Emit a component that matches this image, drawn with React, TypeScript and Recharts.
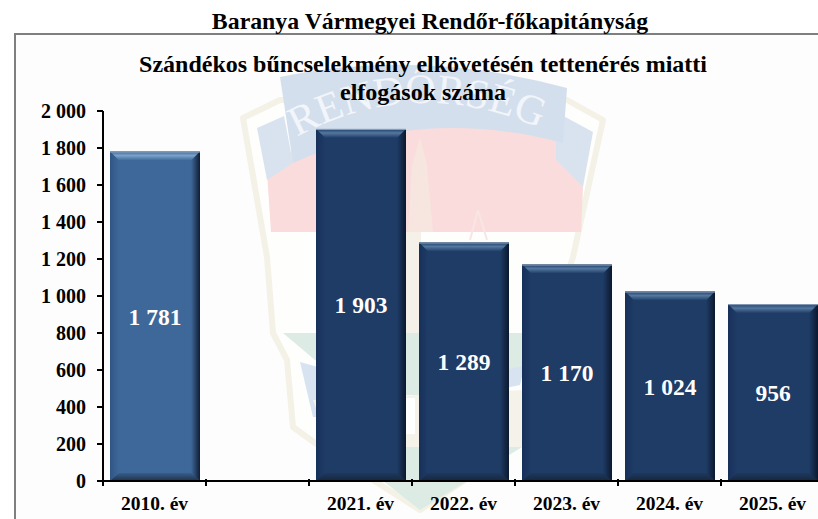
import { BarChart, Bar, XAxis, YAxis, LabelList } from "recharts";

const categories = ["2010. év", " ", "2021. év", "2022. év", "2023. év", "2024. év", "2025. év"];
const values = [1781, null, 1903, 1289, 1170, 1024, 956];
const barColors = ["#3e6899", "#3e6899", "#1e3c66", "#1e3c66", "#1e3c66", "#1e3c66", "#1e3c66"];
const yTicks = [0, 200, 400, 600, 800, 1000, 1200, 1400, 1600, 1800, 2000];

const data = categories.map((name, i) => ({ name, value: values[i] }));

const SERIF = '"Liberation Serif", "Times New Roman", serif';
const BAND = 103;
const BEVEL = 9;

const fmt = (v: number | null) => (v == null ? "" : String(v).replace(/\B(?=(\d{3})+$)/g, "\u00a0"));

function BevelBar(props: any) {
  const { x, y, width: w, height: h, payload } = props;
  if (!h || h <= 0) return null;
  // index skips the empty category, so look the colour up by name
  const c = barColors[categories.indexOf(payload.name)];
  const key = c === "#3e6899" ? "a" : "b";
  const r = x + w;
  const b = y + h;
  return (
    <g>
      <rect x={x} y={y} width={w} height={h} fill={c} />
      <polygon points={`${x},${y} ${r},${y} ${r - BEVEL},${y + BEVEL} ${x + BEVEL},${y + BEVEL}`} fill={`url(#top-${key})`} />
      <polygon points={`${x},${y} ${x + BEVEL},${y + BEVEL} ${x + BEVEL},${b - 8} ${x},${b}`} fill={`url(#left-${key})`} />
      <polygon points={`${r},${y} ${r - BEVEL},${y + BEVEL} ${r - BEVEL},${b - 8} ${r},${b}`} fill="url(#right)" />
      <polygon points={`${x},${b} ${x + BEVEL},${b - 8} ${r - BEVEL},${b - 8} ${r},${b}`} fill="url(#bottom)" />
      <line x1={x} y1={y + 0.5} x2={r} y2={y + 0.5} stroke="#8ea3bd" strokeWidth={1} />
    </g>
  );
}

function BandTick(props: any) {
  const { x, y, payload } = props;
  const left = x - BAND / 2;
  return (
    <g>
      <line x1={left} y1={y - 8} x2={left} y2={y - 1} stroke="#000" strokeWidth={2} />
      <text x={x} y={y + 23} textAnchor="middle" fontFamily={SERIF} fontWeight="bold" fontSize={19.5} fill="#000">
        {payload.value}
      </text>
    </g>
  );
}

// faded police badge behind the plot
function Watermark() {
  return (
    <svg width={818} height={519} style={{ position: "absolute", left: 0, top: 0 }}>
      <defs>
        <path id="badge-arc" d="M 297 137 Q 420 70 555 135" fill="none" />
      </defs>
      {/* shield outline */}
      <path d="M 243 118 L 280 100 L 567 100 L 603 120 L 573 257 L 545 340 L 525 440 L 420 510 L 315 443 L 293 427 L 287 360 L 273 333 L 267 257 Z" fill="#fefefd" stroke="#f4f1e6" strokeWidth={6} strokeLinejoin="round" />
      {/* red field, its top runs under the ribbon */}
      <path d="M 267 172 L 293 150 L 415 112 L 563 130 L 583 187 L 581 232 L 271 232 Z" fill="#fadcdc" />
      {/* ribbon tails and main band */}
      <path d="M 257 128 L 284 116 L 293 163 L 267 180 Z" fill="#d9e3f0" />
      <path d="M 556 112 L 593 132 L 583 187 L 556 160 Z" fill="#d9e3f0" />
      <path d="M 280 77 Q 420 48 567 88 L 563 143 Q 420 105 293 163 Z" fill="#d4dfed" />
      {/* tower and scales inside the red field */}
      <path d="M 420 137 L 427 165 L 433 232 L 408 232 L 412 165 Z" fill="#f6e6df" />
      <path d="M 478 210 L 470 240 M 478 210 L 487 240" stroke="#f7e6e3" strokeWidth={2} fill="none" />
      {/* lower part of the badge */}
      <rect x={405} y={232} width={16} height={101} fill="#f5f1e8" />
      <path d="M 283 333 L 540 333 L 532 362 L 445 395 L 390 395 L 315 360 Z" fill="#dcebe3" />
      <path d="M 300 362 L 382 385 L 382 420 L 313 417 Z" fill="#d8e3f1" />
      <path d="M 450 385 L 525 365 L 520 385 L 450 400 Z" fill="#d8e3f1" />
      <path d="M 313 400 L 525 390 L 522 447 L 330 447 Z" fill="#f5f2ea" />
      <path d="M 340 447 L 522 447 L 420 510 Z" fill="#dcebe3" />
      <rect x={403} y={398} width={12} height={36} fill="#fff" />
      <text fontFamily={SERIF} fontSize={42} fill="#f2f5fa">
        <textPath href="#badge-arc">RENDŐRSÉG</textPath>
      </text>
    </svg>
  );
}

export default function App() {
  return (
    <div style={{ position: "absolute", left: 0, top: 0, width: 818, height: 519, overflow: "hidden", background: "#fff" }}>
      <div style={{ position: "absolute", left: 14, top: 33, width: 820, height: 500, border: "2px solid #7f7f7f", background: "#fdfdfd" }} />
      <Watermark />
      <div style={{ position: "absolute", left: 0, top: 8, width: 860, textAlign: "center", fontFamily: SERIF, fontWeight: "bold", fontSize: 23.8, lineHeight: "26px", color: "#000" }}>
        Baranya Vármegyei Rendőr-főkapitányság
      </div>
      <div style={{ position: "absolute", left: 0, top: 50, width: 846, textAlign: "center", fontFamily: SERIF, fontWeight: "bold", fontSize: 24, lineHeight: "28px", color: "#000" }}>
        Szándékos bűncselekmény elkövetésén tettenérés miatti
        <br />
        elfogások száma
      </div>
      <div style={{ position: "absolute", left: 0, top: 0 }}>
        <BarChart width={840} height={519} data={data} margin={{ top: 111, right: 16, bottom: 0, left: 0 }} barSize={90}>
          <defs>
            <linearGradient id="top-a" x1="0" y1="0" x2="0" y2="1">
              <stop offset="0%" stopColor="#3e6899" />
              <stop offset="45%" stopColor="#7ca2cb" />
              <stop offset="100%" stopColor="#3e6899" />
            </linearGradient>
            <linearGradient id="top-b" x1="0" y1="0" x2="0" y2="1">
              <stop offset="0%" stopColor="#1e3c66" />
              <stop offset="45%" stopColor="#54789f" />
              <stop offset="100%" stopColor="#1e3c66" />
            </linearGradient>
            <linearGradient id="left-a" x1="0" y1="0" x2="1" y2="0">
              <stop offset="0%" stopColor="#2f5585" />
              <stop offset="100%" stopColor="#3e6899" />
            </linearGradient>
            <linearGradient id="left-b" x1="0" y1="0" x2="1" y2="0">
              <stop offset="0%" stopColor="#17305a" />
              <stop offset="100%" stopColor="#1e3c66" />
            </linearGradient>
            <linearGradient id="right" x1="0" y1="0" x2="1" y2="0">
              <stop offset="0%" stopColor="#0a1428" stopOpacity={0} />
              <stop offset="100%" stopColor="#0a1428" stopOpacity={0.9} />
            </linearGradient>
            <linearGradient id="bottom" x1="0" y1="0" x2="0" y2="1">
              <stop offset="0%" stopColor="#14202f" stopOpacity={0.15} />
              <stop offset="100%" stopColor="#14202f" stopOpacity={0.75} />
            </linearGradient>
          </defs>
          <XAxis
            dataKey="name"
            height={38}
            interval={0}
            axisLine={{ stroke: "#000", strokeWidth: 2 }}
            tickLine={false}
            tick={<BandTick />}
            tickMargin={0}
          />
          <YAxis
            width={103}
            domain={[0, 2000]}
            ticks={yTicks}
            interval={0}
            tickFormatter={fmt}
            axisLine={{ stroke: "#000", strokeWidth: 2 }}
            tickLine={{ stroke: "#000", strokeWidth: 2 }}
            tickSize={6}
            tickMargin={11}
            tick={{ fill: "#000", fontFamily: SERIF, fontWeight: "bold", fontSize: 20 }}
          />
          <Bar dataKey="value" shape={BevelBar} isAnimationActive={false}>
            <LabelList
              dataKey="value"
              position="center"
              formatter={fmt}
              fill="#fff"
              style={{ fontFamily: SERIF, fontWeight: "bold", fontSize: 23.5 }}
            />
          </Bar>
        </BarChart>
      </div>
    </div>
  );
}
